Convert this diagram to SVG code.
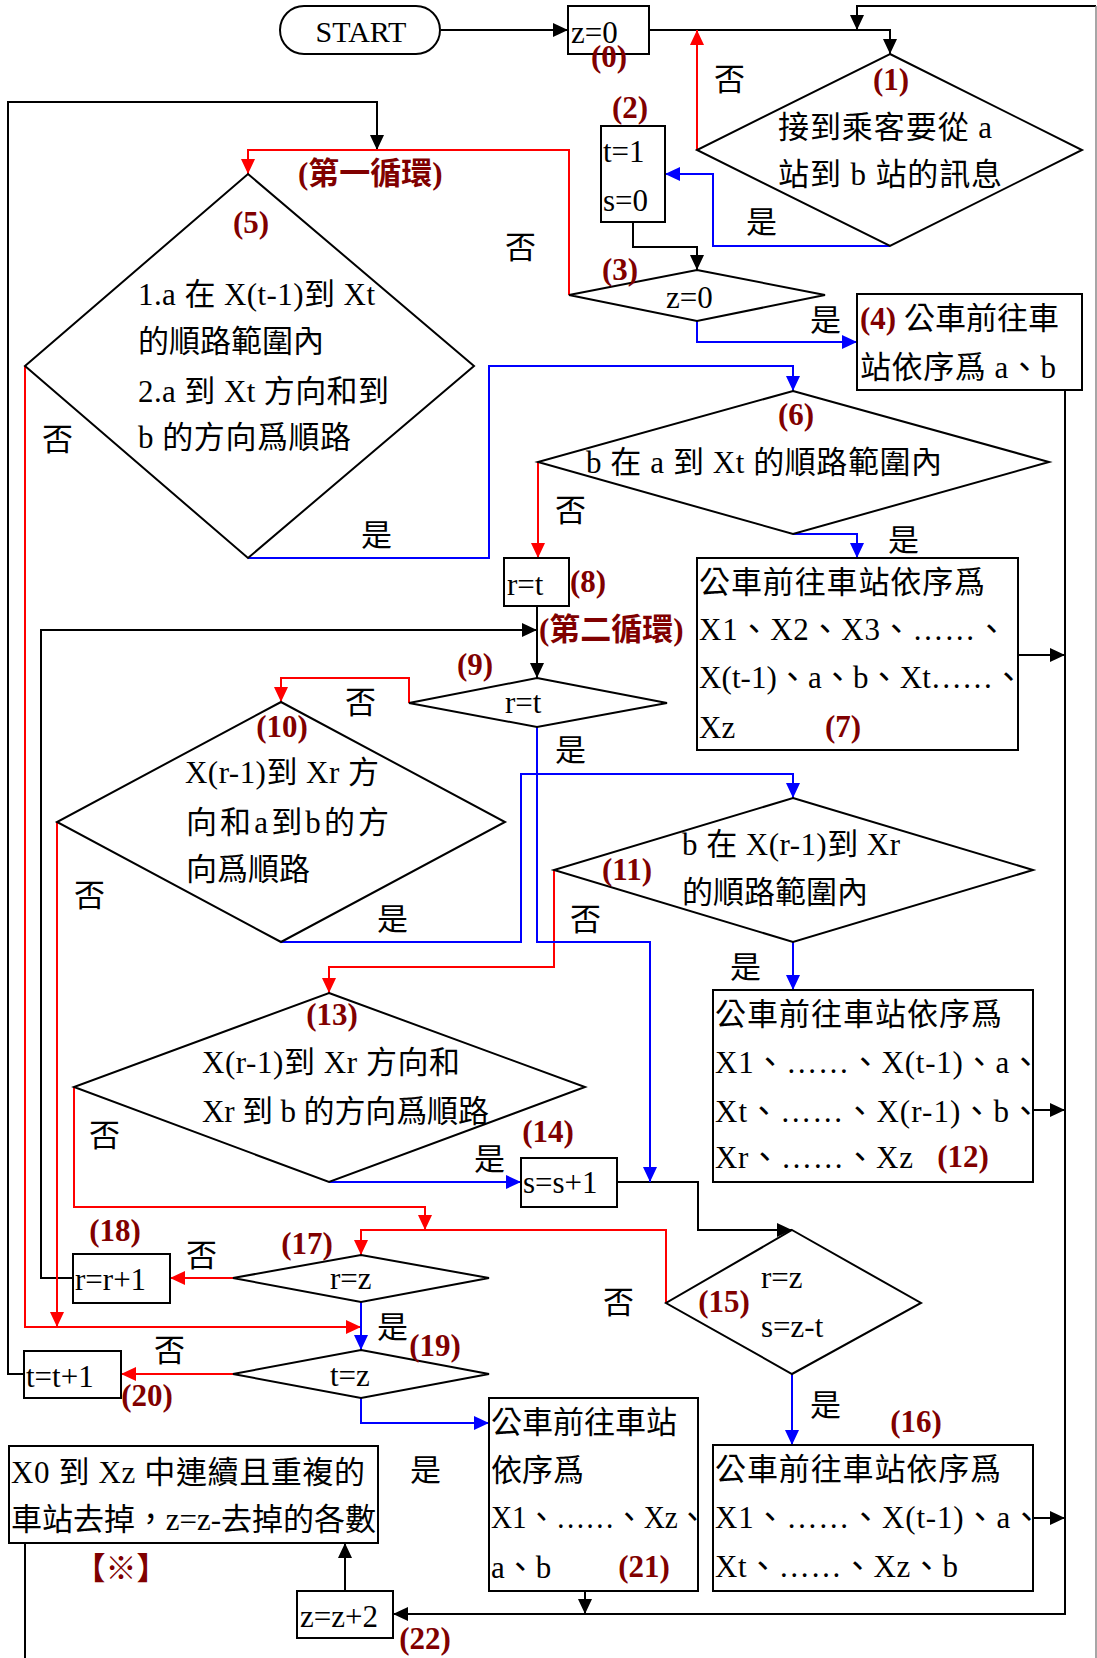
<svg xmlns="http://www.w3.org/2000/svg" width="1097" height="1658" viewBox="0 0 1097 1658">
<style>
.n{fill:#fff;stroke:#000;stroke-width:2}
.t{font-family:"Liberation Serif","Noto Sans CJK TC",serif;font-size:31px;fill:#000}
.lb{font-family:"Liberation Serif","Noto Sans CJK TC",serif;font-size:31px;font-weight:bold;fill:#800000}
.k{fill:none;stroke:#000;stroke-width:2}
.r{fill:none;stroke:#f00;stroke-width:2}
.b{fill:none;stroke:#00f;stroke-width:2}
.mid{text-anchor:middle}
</style>
<defs>
<marker id="ak" markerUnits="userSpaceOnUse" markerWidth="15" markerHeight="14" refX="15" refY="7" orient="auto"><path d="M0,0L15,7L0,14z" fill="#000"/></marker>
<marker id="ar" markerUnits="userSpaceOnUse" markerWidth="15" markerHeight="14" refX="15" refY="7" orient="auto"><path d="M0,0L15,7L0,14z" fill="#f00"/></marker>
<marker id="ab" markerUnits="userSpaceOnUse" markerWidth="15" markerHeight="14" refX="15" refY="7" orient="auto"><path d="M0,0L15,7L0,14z" fill="#00f"/></marker>
</defs>
<rect width="1097" height="1658" fill="#fff"/>

<g id="connectors">
<path class="k" d="M441,30H568" marker-end="url(#ak)"/>
<path class="k" d="M649,30H890V54" marker-end="url(#ak)"/>
<path class="k" d="M1096,6H857V30" marker-end="url(#ak)"/>
<path d="M1096,6V1658" stroke="#888" stroke-width="1.5" fill="none"/>
<path class="k" d="M633,222V247H697V270" marker-end="url(#ak)"/>
<path class="k" d="M537,606V678" marker-end="url(#ak)"/>
<path class="k" d="M73,1278H41V630H537" marker-end="url(#ak)"/>
<path class="k" d="M24,1374H8V102H377V150" marker-end="url(#ak)"/>
<path class="k" d="M617,1182H698V1230H792" marker-end="url(#ak)"/>
<path class="k" d="M1018,655H1065" marker-end="url(#ak)"/>
<path class="k" d="M1033,1110H1065" marker-end="url(#ak)"/>
<path class="k" d="M1033,1518H1065" marker-end="url(#ak)"/>
<path class="k" d="M1065,390V1614H393" marker-end="url(#ak)"/>
<path class="k" d="M585,1591V1614" marker-end="url(#ak)"/>
<path class="k" d="M345,1591V1543" marker-end="url(#ak)"/>
<path class="k" d="M25,1543V1658"/>

<path class="r" d="M697,150V30" marker-end="url(#ar)"/>
<path class="r" d="M569,295V150H248V174" marker-end="url(#ar)"/>
<path class="r" d="M25,366V1327H361" marker-end="url(#ar)"/>
<path class="r" d="M538,462V558" marker-end="url(#ar)"/>
<path class="r" d="M409,703V678H281V702" marker-end="url(#ar)"/>
<path class="r" d="M57,822V1327" marker-end="url(#ar)"/>
<path class="r" d="M554,870V967H329V993" marker-end="url(#ar)"/>
<path class="r" d="M74,1087V1207H425V1230" marker-end="url(#ar)"/>
<path class="r" d="M666,1303V1230H361V1255" marker-end="url(#ar)"/>
<path class="r" d="M233,1278H170" marker-end="url(#ar)"/>
<path class="r" d="M233,1374H121" marker-end="url(#ar)"/>

<path class="b" d="M890,246H713V174H665" marker-end="url(#ab)"/>
<path class="b" d="M697,321V342H857" marker-end="url(#ab)"/>
<path class="b" d="M248,558H489V366H793V391" marker-end="url(#ab)"/>
<path class="b" d="M793,534H857V558" marker-end="url(#ab)"/>
<path class="b" d="M537,727V942H650V1182" marker-end="url(#ab)"/>
<path class="b" d="M281,942H521V774H793V798" marker-end="url(#ab)"/>
<path class="b" d="M793,942V990" marker-end="url(#ab)"/>
<path class="b" d="M329,1182H521" marker-end="url(#ab)"/>
<path class="b" d="M792,1374V1445" marker-end="url(#ab)"/>
<path class="b" d="M361,1302V1350" marker-end="url(#ab)"/>
<path class="b" d="M361,1398V1423H489" marker-end="url(#ab)"/>

<text class="t" x="714" y="90">否</text>
<text class="t" x="746" y="233">是</text>
<text class="t" x="810" y="331">是</text>
<text class="t" x="505" y="258">否</text>
<text class="t" x="42" y="450">否</text>
<text class="t" x="361" y="546">是</text>
<text class="t" x="555" y="521">否</text>
<text class="t" x="888" y="551">是</text>
<text class="t" x="345" y="713">否</text>
<text class="t" x="555" y="761">是</text>
<text class="t" x="74" y="906">否</text>
<text class="t" x="377" y="930">是</text>
<text class="t" x="570" y="930">否</text>
<text class="t" x="730" y="978">是</text>
<text class="t" x="89" y="1146">否</text>
<text class="t" x="474" y="1170">是</text>
<text class="t" x="603" y="1313">否</text>
<text class="t" x="810" y="1416">是</text>
<text class="t" x="186" y="1266">否</text>
<text class="t" x="377" y="1338">是</text>
<text class="t" x="154" y="1361">否</text>
<text class="t" x="410" y="1481">是</text>
<text class="lb" x="298" y="184">(第一循環)</text>
<text class="lb" x="539" y="640">(第二循環)</text>
</g>

<g id="start">
<rect class="n" x="280" y="6" width="160" height="48" rx="24"/>
<text class="t mid" x="361" y="42" style="font-size:30px">START</text>
</g>

<g id="n0">
<rect class="n" x="568" y="6" width="81" height="48"/>
<text class="t" x="571" y="43">z=0</text>
<text class="lb mid" x="609" y="67">(0)</text>
</g>

<g id="n1">
<polygon class="n" points="890,54 1082,150 890,246 697,150"/>
<text class="lb mid" x="891" y="90">(1)</text>
<text class="t" x="778" y="138" textLength="214">接到乘客要從 a</text>
<text class="t" x="778" y="185" textLength="224">站到 b 站的訊息</text>
</g>

<g id="n2">
<rect class="n" x="601" y="126" width="64" height="96"/>
<text class="t" x="603" y="162">t=1</text>
<text class="t" x="603" y="211">s=0</text>
<text class="lb mid" x="630" y="118">(2)</text>
</g>

<g id="n3">
<polygon class="n" points="697,270 825,295 697,321 569,295"/>
<text class="t" x="666" y="308">z=0</text>
<text class="lb mid" x="620" y="280">(3)</text>
</g>

<g id="n4">
<rect class="n" x="857" y="294" width="225" height="96"/>
<text class="t" x="860" y="329"><tspan class="lb">(4)</tspan> 公車前往車</text>
<text class="t" x="860" y="378" textLength="196">站依序爲 a、b</text>
</g>

<g id="n5">
<polygon class="n" points="248,174 474,366 248,558 25,366"/>
<text class="lb mid" x="251" y="233">(5)</text>
<text class="t" x="138" y="305" textLength="237">1.a 在 X(t-1)到 Xt</text>
<text class="t" x="138" y="352">的順路範圍內</text>
<text class="t" x="138" y="402" textLength="251">2.a 到 Xt 方向和到</text>
<text class="t" x="138" y="448" textLength="213">b 的方向爲順路</text>
</g>

<g id="n6">
<polygon class="n" points="793,391 1049,462 793,534 538,462"/>
<text class="lb mid" x="796" y="425">(6)</text>
<text class="t" x="586" y="473" textLength="356">b 在 a 到 Xt 的順路範圍內</text>
</g>

<g id="n7">
<rect class="n" x="697" y="558" width="321" height="192"/>
<text class="t" x="699" y="593" textLength="286">公車前往車站依序爲</text>
<text class="t" x="699" y="640" textLength="308">X1、X2、X3、……、</text>
<text class="t" x="699" y="688" textLength="325">X(t-1)、a、b、Xt……、</text>
<text class="t" x="699" y="738">Xz</text>
<text class="lb mid" x="843" y="737">(7)</text>
</g>

<g id="n8">
<rect class="n" x="504" y="558" width="65" height="48"/>
<text class="t" x="507" y="595">r=t</text>
<text class="lb mid" x="588" y="592">(8)</text>
</g>

<g id="n9">
<polygon class="n" points="537,678 667,703 537,727 409,703"/>
<text class="t" x="505" y="713">r=t</text>
<text class="lb mid" x="475" y="675">(9)</text>
</g>

<g id="n10">
<polygon class="n" points="281,702 505,822 281,942 57,822"/>
<text class="lb mid" x="282" y="737">(10)</text>
<text class="t" x="185" y="783" textLength="194">X(r-1)到 Xr 方</text>
<text class="t" x="186" y="833" textLength="203">向和a到b的方</text>
<text class="t" x="186" y="880">向爲順路</text>
</g>

<g id="n11">
<polygon class="n" points="793,798 1033,870 793,942 554,870"/>
<text class="lb mid" x="627" y="880">(11)</text>
<text class="t" x="682" y="855" textLength="218">b 在 X(r-1)到 Xr</text>
<text class="t" x="682" y="903">的順路範圍內</text>
</g>

<g id="n12">
<rect class="n" x="713" y="990" width="320" height="192"/>
<text class="t" x="715" y="1025" textLength="287">公車前往車站依序爲</text>
<text class="t" x="715" y="1073" textLength="326">X1、……、X(t-1)、a、</text>
<text class="t" x="715" y="1122" textLength="326">Xt、……、X(r-1)、b、</text>
<text class="t" x="715" y="1168" textLength="198">Xr、……、Xz</text>
<text class="lb mid" x="963" y="1167">(12)</text>
</g>

<g id="n13">
<polygon class="n" points="329,993 585,1087 329,1182 74,1087"/>
<text class="lb mid" x="332" y="1025">(13)</text>
<text class="t" x="202" y="1073" textLength="258">X(r-1)到 Xr 方向和</text>
<text class="t" x="202" y="1122" textLength="287">Xr 到 b 的方向爲順路</text>
</g>

<g id="n14">
<rect class="n" x="521" y="1158" width="96" height="49"/>
<text class="t" x="523" y="1193">s=s+1</text>
<text class="lb mid" x="548" y="1142">(14)</text>
</g>

<g id="n15">
<polygon class="n" points="792,1230 921,1303 792,1374 666,1303"/>
<text class="t" x="761" y="1288">r=z</text>
<text class="t" x="761" y="1337">s=z-t</text>
<text class="lb mid" x="724" y="1312">(15)</text>
</g>

<g id="n16">
<rect class="n" x="713" y="1445" width="320" height="146"/>
<text class="lb mid" x="916" y="1432">(16)</text>
<text class="t" x="715" y="1480" textLength="286">公車前往車站依序爲</text>
<text class="t" x="715" y="1528" textLength="327">X1、……、X(t-1)、a、</text>
<text class="t" x="715" y="1577" textLength="243">Xt、……、Xz、b</text>
</g>

<g id="n17">
<polygon class="n" points="361,1255 489,1278 361,1302 233,1278"/>
<text class="t" x="330" y="1289">r=z</text>
<text class="lb mid" x="307" y="1254">(17)</text>
</g>

<g id="n18">
<rect class="n" x="73" y="1254" width="97" height="49"/>
<text class="t" x="75" y="1290">r=r+1</text>
<text class="lb mid" x="115" y="1241">(18)</text>
</g>

<g id="n19">
<polygon class="n" points="361,1350 489,1374 361,1398 233,1374"/>
<text class="t" x="330" y="1386">t=z</text>
<text class="lb mid" x="435" y="1356">(19)</text>
</g>

<g id="n20">
<rect class="n" x="24" y="1351" width="97" height="47"/>
<text class="t" x="26" y="1387">t=t+1</text>
<text class="lb mid" x="147" y="1406">(20)</text>
</g>

<g id="n21">
<rect class="n" x="489" y="1398" width="209" height="193"/>
<text class="t" x="491" y="1433">公車前往車站</text>
<text class="t" x="491" y="1481">依序爲</text>
<text class="t" x="491" y="1528" textLength="216" lengthAdjust="spacingAndGlyphs">X1、……、Xz、</text>
<text class="t" x="491" y="1578">a、b</text>
<text class="lb mid" x="644" y="1577">(21)</text>
</g>

<g id="nx">
<rect class="n" x="9" y="1446" width="369" height="97"/>
<text class="t" x="11" y="1483" textLength="354">X0 到 Xz 中連續且重複的</text>
<text class="t" x="11" y="1530" textLength="365">車站去掉，z=z-去掉的各數</text>
<text class="lb mid" x="121" y="1579">【※】</text>
</g>

<g id="n22">
<rect class="n" x="297" y="1591" width="96" height="47"/>
<text class="t" x="300" y="1627">z=z+2</text>
<text class="lb mid" x="425" y="1649">(22)</text>
</g>
</svg>
